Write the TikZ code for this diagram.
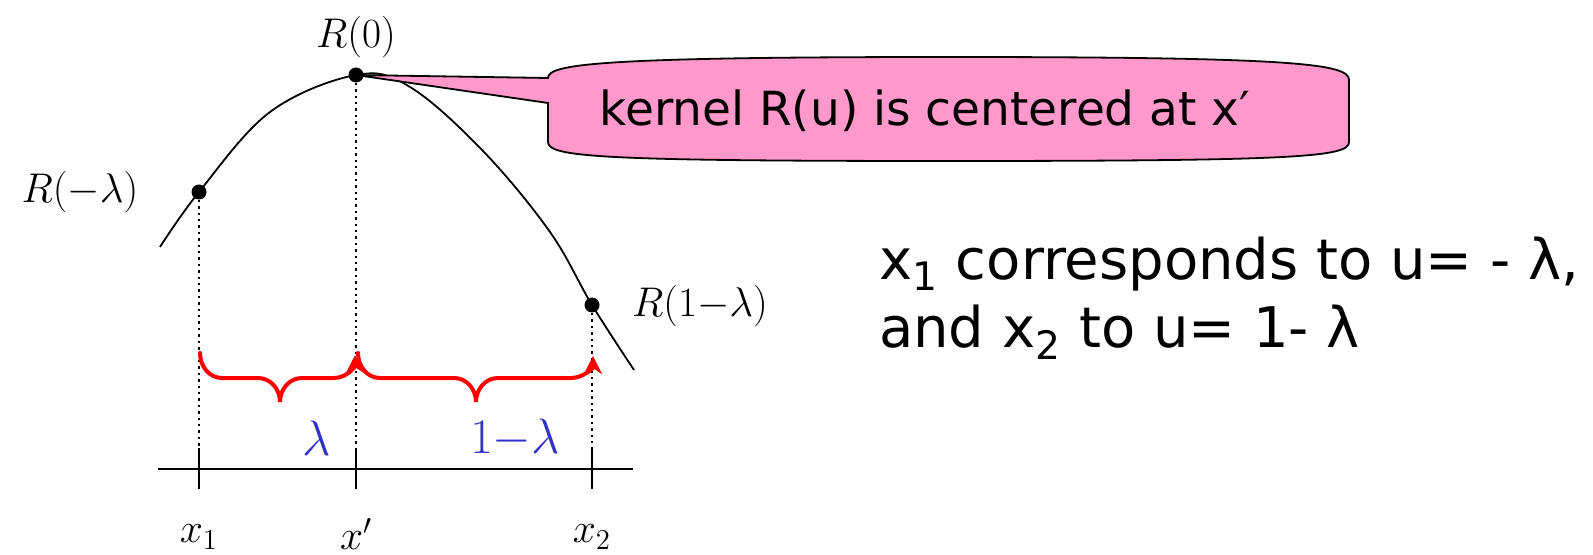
\documentclass[tikz,border=0pt]{standalone}
\usepackage{fontspec}
\newfontfamily\slidefont{DejaVu Sans}
\usetikzlibrary{arrows.meta,calc,positioning}
\definecolor{calloutpink}{RGB}{255,153,204}
\definecolor{lamblue}{RGB}{50,50,200}

\begin{document}
\begin{tikzpicture}[x=0.5pt,y=-0.5pt,
  dot/.style={circle,fill=black,inner sep=0pt,minimum size=7.5pt},
  guide/.style={dash pattern=on 1.2pt off 2pt,line width=0.9pt},
  brace/.style={red,line width=2pt,line cap=round,-{Stealth[length=9pt,width=9pt]}},
  mathlbl/.style={font=\fontsize{22}{26}\selectfont},
  lamlbl/.style={lamblue,font=\fontsize{24}{28}\selectfont},
  calltext/.style={font=\slidefont\fontsize{23.5}{28}\selectfont},
  notetext/.style={font=\slidefont\fontsize{28}{34}\selectfont,anchor=west}]
\useasboundingbox (0,0) rectangle (1593,555);
% kernel points
\coordinate (cl) at (199,192);
\coordinate (c0) at (356,75);
\coordinate (cr) at (592,305);
% curve and axis
\draw[line width=0.9pt] plot[smooth,tension=0.6] coordinates {(160,247) (cl) (270,112) (c0) (410,87) (483,151) (550,232) (cr) (634,370)};
\draw[line width=1.3pt] (158,469)--(633,469);
\coordinate (t1) at (199,448); \coordinate (tp) at (356,448); \coordinate (t2) at (592,448);
\foreach \t in {t1,tp,t2} \draw[line width=1.1pt] (\t)--++(0,41);
% callout
\draw[fill=calloutpink,line width=0.9pt] (548,103)--(548,142) .. controls (548,157) and (600,161) .. (949,161)
  .. controls (1298,161) and (1349,157) .. (1349,142)--(1349,80) .. controls (1349,64) and (1298,57) .. (949,57)
  .. controls (600,57) and (548,64) .. (548,78)--(c0)--cycle;
\node[calltext] (call) at (925,111) {kernel R(u) is centered at x′};
% dots and labels
\node[dot] (pl) at (cl) {}; \node[dot] (p0) at (c0) {}; \node[dot] (pr) at (cr) {};
\draw[guide] (pl)--(t1); \draw[guide] (p0)--(tp); \draw[guide] (pr)--(t2);
\node[mathlbl] (r0) at (356,37) {$R(0)$};
\node[mathlbl] (rl) at (80,192) {$R(-\lambda)$};
\node[mathlbl] (rr) at (700,306) {$R(1{-}\lambda)$};
\node[mathlbl] (x1) at (199,537) {$x_1$};
\node[mathlbl] (xp) at (356,534) {$x'$};
\node[mathlbl] (x2) at (592,537) {$x_2$};
% braces
\draw[brace] (200,353) to[out=-90,in=180] (222,378)--(258,378) to[out=0,in=90] (280,402)
  to[out=90,in=180] (302,378)--(334,378) to[out=0,in=-90] (355,355);
\draw[brace] (358,353) to[out=-90,in=180] (380,378)--(454,378) to[out=0,in=90] (476,402)
  to[out=90,in=180] (498,378)--(571,378) to[out=0,in=-90] (593,356);
\node[lamlbl] (lam) at (317,438) {$\lambda$};
\node[lamlbl] (oml) at (515,438) {$1{-}\lambda$};
% note
\node[notetext] (n1) at (872,264) {x\textsubscript{1} corresponds to u= - λ,};
\node[notetext] (n2) at (872,332) {and x\textsubscript{2} to u= 1- λ};
\end{tikzpicture}
\end{document}
